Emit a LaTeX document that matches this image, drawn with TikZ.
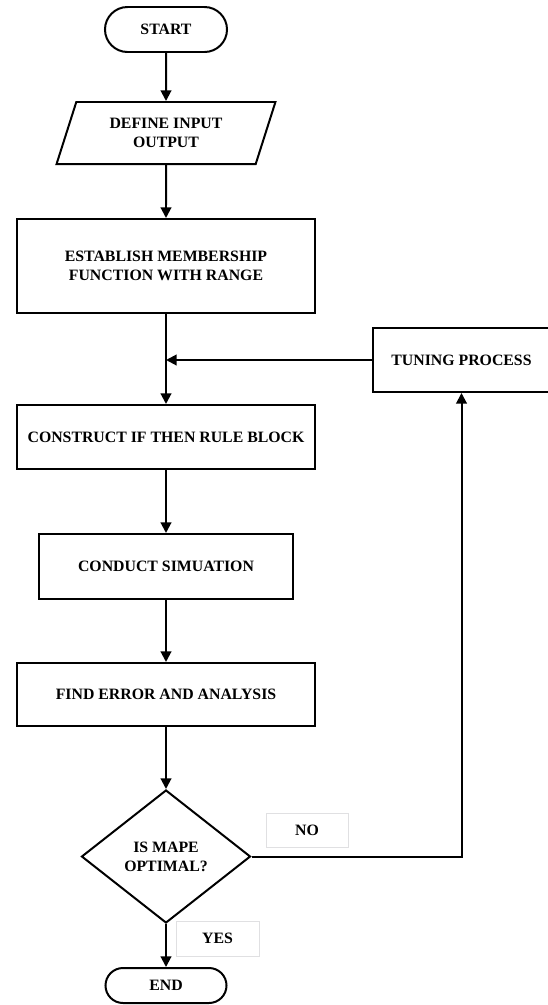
\documentclass[tikz,border=0pt]{standalone}
\usepackage{fontspec}
\setmainfont{Liberation Serif}
\usetikzlibrary{positioning,shapes,arrows.meta}

\begin{document}
\begin{tikzpicture}[x=0.03cm,y=-0.03cm]
\tikzstyle{every node}+=[inner sep=0pt, align=center, font=\fontsize{13.5}{16}\selectfont\bfseries]
\tikzstyle{line}=[line width=1.7pt]
\tikzstyle{arrow}=[line, -{Triangle[width=9pt,length=9pt]}]
\tikzstyle{box}=[draw, line, rectangle]
\tikzstyle{term}=[draw, line, rounded rectangle]
\tikzstyle{iobox}=[draw, line, trapezium, trapezium left angle=67, trapezium right angle=113, trapezium stretches=true]
\tikzstyle{choice}=[draw, line, diamond]
\tikzstyle{tag}=[draw=blue!6!black!12, line width=0.5pt, rectangle]
\useasboundingbox (0,0) rectangle (547,1005);
% main column
\node [term, minimum width=3.66cm, minimum height=1.35cm] (start) at (166,29.5) {START};
\node [iobox, minimum width=6.57cm, minimum height=1.86cm] (io) at (166,133) {DEFINE INPUT\\OUTPUT};
\node [box, minimum width=8.91cm, minimum height=2.82cm] (est) at (166,266) {ESTABLISH MEMBERSHIP\\FUNCTION WITH RANGE};
\node [box, minimum width=8.94cm, minimum height=1.92cm] (cons) at (166,437) {CONSTRUCT IF THEN RULE BLOCK};
\node [box, minimum width=7.62cm, minimum height=1.95cm] (sim) at (166,566.5) {CONDUCT SIMUATION};
\node [box, minimum width=8.91cm, minimum height=1.89cm] (find) at (166,694.5) {FIND ERROR AND ANALYSIS};
\node [choice, minimum width=5.07cm, minimum height=3.99cm] (dec) at (166,856.5) {IS MAPE\\OPTIMAL?};
\node [term, minimum width=3.63cm, minimum height=1.05cm] (end) at (166,985.5) {END};
% feedback
\node [box, minimum width=5.31cm, minimum height=1.92cm] (tune) at (461.5,360) {TUNING PROCESS};
\node [tag, minimum width=2.46cm, minimum height=1.02cm] (no) at (307,830) {NO};
\node [tag, minimum width=2.49cm, minimum height=1.05cm] (yes) at (217.5,938.5) {YES};
% connectors
\draw [arrow] (start) -- (io);
\draw [arrow] (io) -- (est);
\draw [arrow] (est) -- (cons);
\draw [arrow] (cons) -- (sim);
\draw [arrow] (sim) -- (find);
\draw [arrow] (find) -- (dec);
\draw [arrow] (dec) -- (end);
\draw [arrow] (dec.east) -| (tune.south);
\draw [arrow] (tune.west) -- (est.south |- tune.west);
\end{tikzpicture}
\end{document}
